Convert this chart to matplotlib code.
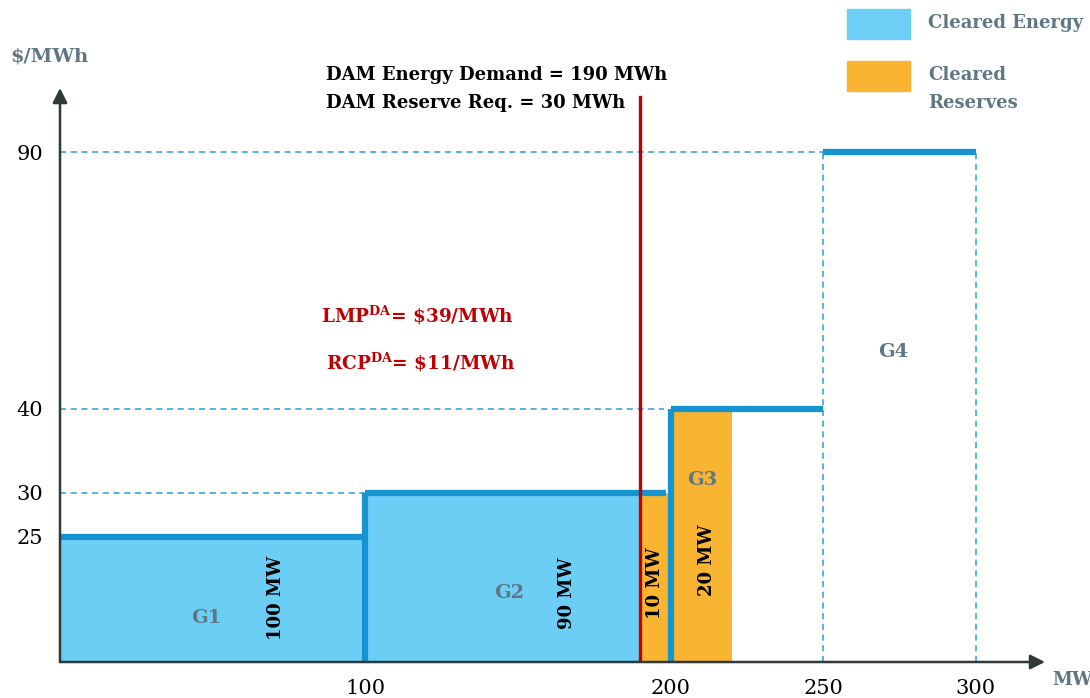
import numpy as np
import matplotlib
matplotlib.use("Agg")
import matplotlib.pyplot as plt
from matplotlib.patches import Rectangle

# Offer stack (MW ranges and prices)
g1_mw, g1_price = (0, 100), 25
g2_mw, g2_price = (100, 200), 30
g3_mw, g3_price = (200, 250), 40
g4_mw, g4_price = (250, 300), 90

# Cleared quantities
energy_blocks = [(0, 100, 25), (100, 190, 30)]        # (from, to, height)
reserve_blocks = [(190, 200, 30), (200, 220, 40)]
demand_mw = 190

price_ticks = [25, 30, 40, 90]
mw_ticks = [100, 200, 250, 300]

# Colours
FILL_BLUE = "#6DCEF5"
LINE_BLUE = "#1694D2"
DASH_BLUE = "#2A9EDC"
ORANGE = "#F9B531"
RED = "#C00000"
GREY = "#5E7782"
AXIS = "#2E3A3A"

plt.rcParams["font.family"] = "DejaVu Serif"
plt.rcParams["mathtext.fontset"] = "custom"
plt.rcParams["mathtext.rm"] = "DejaVu Serif:bold"

W, H = 1090, 698
fig = plt.figure(figsize=(W / 100, H / 100), dpi=100)

# axes placed in pixels: origin at (60, 662)
px_per_mw = 3.053
x0, y0, x1, y1 = 60, 662, 1045, 88
ax = fig.add_axes([x0 / W, (H - y0) / H, (x1 - x0) / W, (y0 - y1) / H])

# price axis is drawn with uneven spacing between the labelled levels
knot_v = np.array([0, 25, 30, 40, 90, 130])
knot_p = np.array([0, 125, 169, 253, 510, 716])


def fwd(v):
    return np.interp(v, knot_v, knot_p)


def inv(p):
    return np.interp(p, knot_p, knot_v)


ax.set_yscale("function", functions=(fwd, inv))
ax.set_xlim(0, (x1 - x0) / px_per_mw)
ax.set_ylim(0, inv(y0 - y1))

for s in ax.spines.values():
    s.set_visible(False)

# cleared energy and reserve blocks
for a, b, h in energy_blocks:
    ax.add_patch(Rectangle((a, 0), b - a, h, color=FILL_BLUE, lw=0, zorder=1))
for a, b, h in reserve_blocks:
    ax.add_patch(Rectangle((a, 0), b - a, h, color=ORANGE, lw=0, zorder=1))

# supply curve steps
step = dict(color=LINE_BLUE, lw=4.5, zorder=3, solid_capstyle="butt")
ax.plot([g1_mw[0], g1_mw[1]], [g1_price, g1_price], **step)
ax.plot([g2_mw[0], g2_mw[0]], [0, g2_price], **step)
ax.plot([g2_mw[0], g2_mw[1] - 1.5], [g2_price, g2_price], **step)
ax.plot([g3_mw[0], g3_mw[0]], [0, g3_price], **step)
ax.plot([g3_mw[0], g3_mw[1]], [g3_price, g3_price], **step)
ax.plot([g4_mw[0], g4_mw[1]], [g4_price, g4_price], **step)

# dashed guides
dash = dict(color=DASH_BLUE, lw=1.1, ls=(0, (4, 3)), zorder=2)
ax.plot([0, g4_mw[0]], [g4_price, g4_price], **dash)
ax.plot([0, g3_mw[0] - 2], [g3_price, g3_price], **dash)
ax.plot([0, g2_mw[0]], [g2_price, g2_price], **dash)
ax.plot([g4_mw[0], g4_mw[0]], [0, g4_price], **dash)
ax.plot([g4_mw[1], g4_mw[1]], [0, g4_price], **dash)

# demand line
ax.plot([demand_mw, demand_mw], [0, 100.7], color=RED, lw=2.4, zorder=5)

# axes with arrow heads
arrow = dict(arrowstyle="-|>", color=AXIS, lw=1.8, mutation_scale=22, shrinkA=0, shrinkB=0)
ax.annotate("", xy=(ax.get_xlim()[1], 0), xytext=(0, 0), arrowprops=arrow, zorder=6, annotation_clip=False)
ax.annotate("", xy=(0, ax.get_ylim()[1]), xytext=(0, 0), arrowprops=arrow, zorder=6, annotation_clip=False)

ax.set_yticks(price_ticks)
ax.set_yticklabels([str(t) for t in price_ticks])
ax.set_xticks(mw_ticks)
ax.set_xticklabels([str(t) for t in mw_ticks])
ax.yaxis.set_minor_locator(matplotlib.ticker.NullLocator())
ax.tick_params(axis="both", length=0, labelsize=15, colors="black")
ax.tick_params(axis="y", pad=12)
ax.tick_params(axis="x", pad=12)

# generator labels
g_style = dict(color=GREY, fontsize=14, fontweight="bold", ha="center", va="center", zorder=7)
ax.text(48, 8.8, "G1", **g_style)
ax.text(147, 13.8, "G2", **g_style)
ax.text(210.5, 31.5, "G3", **g_style)
ax.text(273, 51, "G4", **g_style)

# block sizes
mw_style = dict(color="black", fontsize=13, fontweight="bold", ha="center", va="center", rotation=90, zorder=7)
ax.text(70.7, 12.8, "100 MW", **mw_style)
ax.text(166, 13.8, "90 MW", **mw_style)
ax.text(195, 15.8, "10 MW", **mw_style)
ax.text(212, 20.4, "20 MW", **mw_style)

# clearing prices
price_style = dict(color=RED, fontsize=13.3, fontweight="bold", ha="left", va="center", zorder=7)
ax.text(85.5, 58.3, r"LMP$^{\mathrm{DA}}$= \$39/MWh", **price_style)
ax.text(87, 49, r"RCP$^{\mathrm{DA}}$= \$11/MWh", **price_style)


def ftext(x, y, s, **kw):
    fig.text(x / W, 1 - y / H, s, **kw)


ftext(326, 75, "DAM Energy Demand = 190 MWh", fontsize=13, fontweight="bold", va="center")
ftext(326, 103, "DAM Reserve Req. = 30 MWh", fontsize=13, fontweight="bold", va="center")
ftext(10, 57, "$/MWh", fontsize=14, fontweight="bold", color=GREY, va="center")
ftext(1052, 680, "MW", fontsize=13, fontweight="bold", color=GREY, va="center")

# legend
fig.patches.append(Rectangle((847 / W, 1 - 39 / H), 63 / W, 30 / H, color="#6DCFF6",
                             transform=fig.transFigure, figure=fig))
fig.patches.append(Rectangle((847 / W, 1 - 91 / H), 63 / W, 30 / H, color=ORANGE,
                             transform=fig.transFigure, figure=fig))
legend_style = dict(fontsize=13, fontweight="bold", color=GREY, va="center")
ftext(928, 23, "Cleared Energy", **legend_style)
ftext(928, 75, "Cleared", **legend_style)
ftext(928, 103, "Reserves", **legend_style)

fig.savefig("out.png", dpi=100)
